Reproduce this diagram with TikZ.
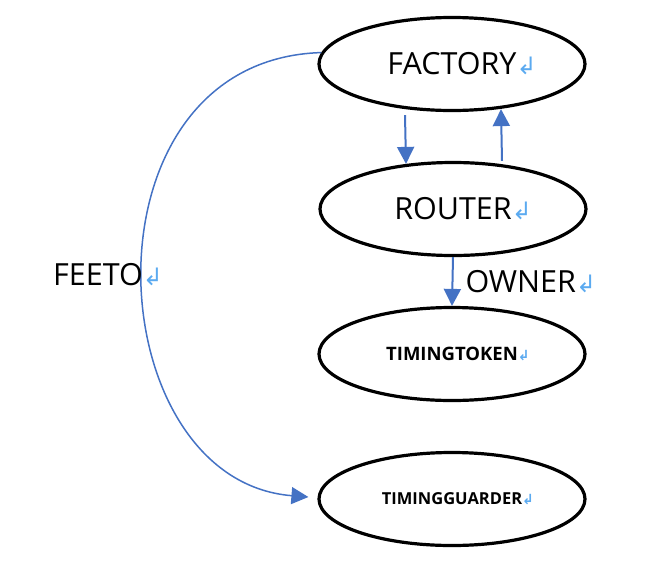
\documentclass[tikz,border=0pt]{standalone}
\usepackage{fontspec}
\setmainfont{Open Sans}
\newfontfamily\markfont{DejaVu Sans}
\usetikzlibrary{shapes.geometric,arrows.meta}
\definecolor{linkblue}{RGB}{68,114,196}
\definecolor{markblue}{RGB}{91,170,240}
\newcommand{\retmark}[1]{\rlap{\markfont\fontsize{#1}{#1}\selectfont\color{markblue}↲}}
\tikzset{
    state/.style={draw, ellipse, line width=3.2pt, minimum width=266pt,
        minimum height=93pt, inner sep=0pt},
    big/.style={font=\fontsize{30.5}{36}\selectfont},
    small/.style={font=\bfseries\fontsize{#1}{22}\selectfont},
    flow/.style={->, draw=linkblue, line width=2pt},
}
\begin{document}
\begin{tikzpicture}[x=1pt,y=-1pt, >={Triangle[length=17pt,width=17pt]}]
    \useasboundingbox (0,0) rectangle (656,584);
    \node[state,big] (factory) at (452,64) {FACTORY\retmark{24}};
    \node[state,big] (router) at (453,209) {ROUTER\retmark{24}};
    \node[state,small=18.5] (token) at (452,354) {TIMINGTOKEN\retmark{14}};
    \node[state,small=16.5] (guarder) at (452,499) {TIMINGGUARDER\retmark{14}};
    \draw[flow] ([xshift=-47pt,yshift=-3pt]factory.south)--
        ([xshift=-47pt,yshift=-3pt]router.north);
    \draw[flow] ([xshift=49pt]router.north)--
        ([xshift=49pt,yshift=3pt]factory.south);
    \draw[flow] (router.south)-- (token.north)
        node [midway,right=12pt,big,inner sep=0pt] (owner) {OWNER\retmark{24}};
    \draw[flow,line width=1.5pt] (factory.175) .. controls (75,60) and (96,480) ..
        ([xshift=-9pt,yshift=2pt]guarder.west);
    \node[big,anchor=west,inner sep=0pt] (feeto) at (53,275) {FEETO\retmark{24}};
\end{tikzpicture}
\end{document}
